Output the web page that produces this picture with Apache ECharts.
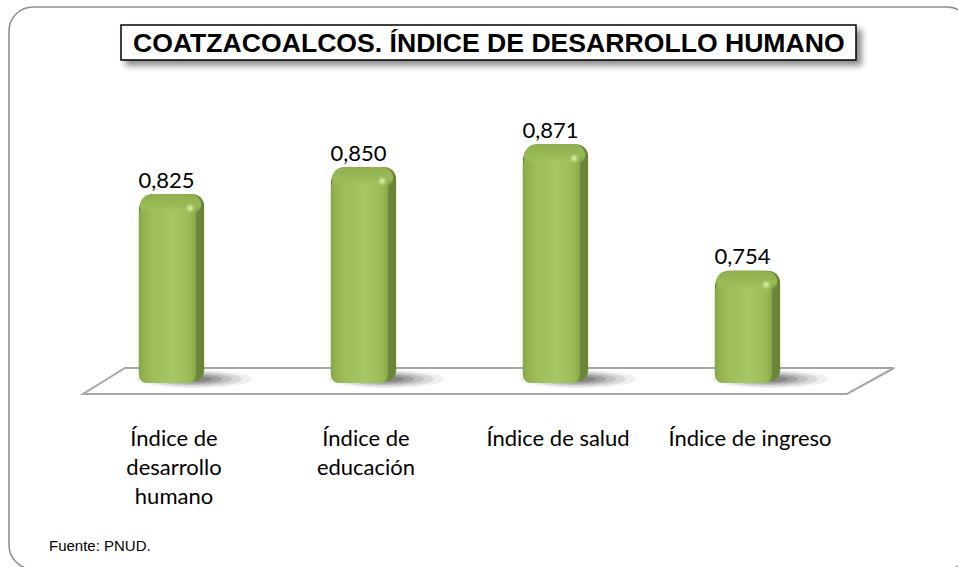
<!DOCTYPE html>
<html>
<head>
<meta charset="utf-8">
<script src="https://cdn.jsdelivr.net/npm/echarts@6/dist/echarts.min.js"></script>
<style>
html,body{margin:0;padding:0;background:#fff;}
#chart{width:958px;height:567px;}
</style>
</head>
<body>
<div id="chart"></div>
<script>
// ---- data ----
const categories = ['Índice de\ndesarrollo\nhumano', 'Índice de\neducación', 'Índice de salud', 'Índice de ingreso'];
const values = [0.825, 0.850, 0.871, 0.754];
const titleText = 'COATZACOALCOS. ÍNDICE DE DESARROLLO HUMANO';
const sourceText = 'Fuente: PNUD.';
const yMin = 0.65, yMax = 0.9;

const chart = echarts.init(document.getElementById('chart'), null, {renderer: 'svg'});
const LABEL_FONT = 'Lato, "Open Sans", sans-serif';

function fmt(v) { return v.toFixed(3).replace('.', ','); }

function renderBar(params, api) {
  const idx = api.value(0);
  const val = api.value(1);
  const top = api.coord([idx, val]);
  const base = api.coord([idx, yMin]);
  const bw = api.size([1, 0])[0];
  const cx = top[0];
  const yTop = top[1];
  const yb = base[1];
  const fl = cx - bw * 0.183;
  const fr = cx + bw * 0.105;
  const sr = cx + bw * 0.157;
  const children = [];
  // soft shadow on floor
  const shades = [[58, 9, 0.07], [48, 7.5, 0.11], [38, 6, 0.15], [28, 4.5, 0.2], [18, 3, 0.22]];
  shades.forEach(function (s) {
    children.push({type: 'ellipse', shape: {cx: cx + 20, cy: yb - 4, rx: s[0], ry: s[1]},
      style: {fill: 'rgba(40,40,40,' + s[2] + ')'}});
  });
  // side/back silhouette
  children.push({type: 'rect', shape: {x: fl, y: yTop, width: sr - fl, height: yb - yTop - 2, r: [16, 12, 10, 8]},
    style: {fill: '#6a8535'}});
  // front face
  children.push({type: 'rect', shape: {x: fl, y: yTop + 8, width: fr - fl + 2, height: yb - yTop - 8, r: [14, 8, 8, 8]},
    style: {fill: new echarts.graphic.LinearGradient(0, 0, 1, 0, [
      {offset: 0, color: '#8aa848'}, {offset: 0.18, color: '#9abb58'},
      {offset: 0.6, color: '#a7c865'}, {offset: 0.9, color: '#9aba57'}, {offset: 1, color: '#86a444'}])}});
  // top cap
  children.push({type: 'rect', shape: {x: fl + 1, y: yTop, width: sr - fl - 4, height: 20, r: [16, 12, 10, 10]},
    style: {fill: new echarts.graphic.LinearGradient(0, 0, 0, 1, [
      {offset: 0, color: '#8fae4e'}, {offset: 0.6, color: '#9bbb59'}, {offset: 1, color: 'rgba(160,196,96,0)'}])}});
  // highlight
  children.push({type: 'circle', shape: {cx: fr - 4, cy: yTop + 14, r: 5},
    style: {fill: new echarts.graphic.RadialGradient(0.5, 0.5, 0.5, [
      {offset: 0, color: 'rgba(235,250,190,0.95)'}, {offset: 1, color: 'rgba(200,230,140,0)'}])}});
  // value label
  children.push({type: 'text', style: {x: (fl + fr) / 2, y: yTop - 15, text: fmt(val),
    fill: '#000', font: '22px ' + LABEL_FONT, align: 'center', verticalAlign: 'middle'}});
  return {type: 'group', children: children};
}

function renderFloor(params, api) {
  const cs = params.coordSys;
  const by = cs.y + cs.height;
  const x = cs.x, w = cs.width;
  return {type: 'polygon', shape: {points: [[x + 5, by + 11], [x + w + 1, by + 11], [x + w + 48, by - 15], [x + 47, by - 15]]},
    style: {fill: '#fff', stroke: '#a6a6a6', lineWidth: 2}};
}

const option = {
  backgroundColor: '#fff',
  animation: false,
  title: [{
    text: titleText, left: 121, top: 25, padding: [4, 12],
    textStyle: {fontFamily: '"Liberation Sans", Arial, sans-serif', fontSize: 26.6, fontWeight: 'bold', color: '#000'},
    backgroundColor: '#fff', borderColor: '#000', borderWidth: 1.5,
    shadowBlur: 6, shadowOffsetX: 5, shadowOffsetY: 5, shadowColor: 'rgba(0,0,0,0.45)'
  }, {
    text: sourceText, left: 49, top: 538, padding: 0,
    textStyle: {fontFamily: '"Liberation Sans", Arial, sans-serif', fontSize: 15, fontWeight: 'normal', color: '#000'}
  }],
  graphic: [{
    type: 'rect', z: -10, shape: {x: 9, y: 7, width: 962, height: 562, r: 24},
    style: {fill: 'none', stroke: '#8c8c8c', lineWidth: 1.5}
  }],
  grid: {left: 78, right: 112, top: 113, bottom: 184},
  xAxis: {
    type: 'category', data: categories,
    axisLine: {show: false}, axisTick: {show: false}, splitLine: {show: false},
    axisLabel: {interval: 0, margin: 40, fontFamily: LABEL_FONT, fontSize: 22, lineHeight: 29, color: '#000'}
  },
  yAxis: {type: 'value', min: yMin, max: yMax, show: false, splitLine: {show: false}},
  series: [{
    type: 'custom', renderItem: renderFloor, data: [[0]], z: 1, silent: true
  }, {
    type: 'custom', renderItem: renderBar, z: 2,
    data: values.map(function (v, i) { return [i, v]; }),
    encode: {x: 0, y: 1}
  }]
};
chart.setOption(option);
</script>
</body>
</html>
